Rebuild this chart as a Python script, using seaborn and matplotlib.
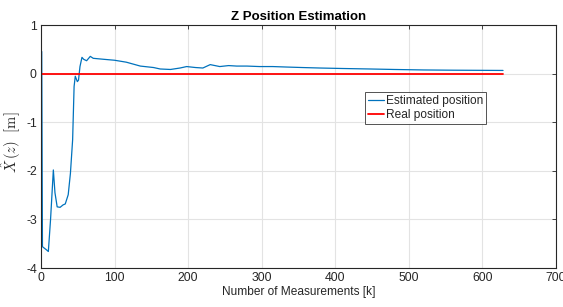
import matplotlib
matplotlib.use("Agg")
import matplotlib.pyplot as plt
import seaborn as sns
import pandas as pd

# Data
est_k = [1, 2, 3.6, 7, 10, 13, 16.8, 19, 22, 26, 30, 33, 37, 40, 43, 45, 46.6, 49.4, 51, 53, 55.7,
         58, 62, 67, 71, 85, 100, 116, 135, 153, 162, 176, 189, 198, 210, 220, 230, 243,
         255, 266, 280, 297, 315, 334, 355, 379, 410, 447, 480, 520, 560, 600, 628]
est_z = [0.46, -3.56, -3.58, -3.62, -3.66, -3.0, -1.98, -2.45, -2.74, -2.75, -2.70, -2.68, -2.49,
         -2.05, -1.36, -0.26, -0.05, -0.16, -0.13, 0.15, 0.34,
         0.30, 0.27, 0.36, 0.32, 0.30, 0.28, 0.24, 0.16, 0.13, 0.10, 0.09, 0.12, 0.15, 0.13,
         0.12, 0.19, 0.15, 0.17, 0.16, 0.16, 0.15, 0.15, 0.14, 0.13, 0.12, 0.11, 0.10, 0.09,
         0.08, 0.075, 0.072, 0.07]
real_k = [0, 628]
real_z = [0, 0]

x_ticks = [0, 100, 200, 300, 400, 500, 600, 700]
y_ticks = [-4, -3, -2, -1, 0, 1]

sns.set_theme(style="whitegrid")
plt.rcParams['font.family'] = ['Liberation Sans', 'DejaVu Sans']
plt.rcParams['mathtext.fontset'] = 'cm'
plt.rcParams['axes.unicode_minus'] = False

df = pd.concat([
    pd.DataFrame({"k": est_k, "z": est_z, "series": "Estimated position"}),
    pd.DataFrame({"k": real_k, "z": real_z, "series": "Real position"}),
])

fig = plt.figure(figsize=(5.63, 3.07), dpi=100)
ax = fig.add_axes([0.0728, 0.127, 0.9148, 0.7906])
sns.lineplot(data=df, x="k", y="z", hue="series",
             palette={"Estimated position": "#0072BD", "Real position": "#FF0000"},
             linewidth=0.9, ax=ax, sort=False, estimator=None)
for line in ax.get_lines():
    if line.get_color() in ("#FF0000", "#ff0000"):
        line.set_linewidth(1.3)

ax.set_xlim(0, 700)
ax.set_ylim(-4, 1)
ax.set_xticks(x_ticks)
ax.set_yticks(y_ticks)
ax.set_facecolor("white")
ax.grid(True, color="#e3e3e3", linewidth=0.8)
for s in ax.spines.values():
    s.set_color("#262626")
    s.set_linewidth(0.8)
    s.set_visible(True)
ax.tick_params(axis="both", direction="in", length=3, width=0.6, color="#262626",
               labelsize=8.8, labelcolor="#262626", top=True, right=True, pad=3)
ax.set_title("Z Position Estimation", fontsize=9.5, fontweight="bold", pad=4, color="black")
ax.set_xlabel("Number of Measurements [k]", fontsize=8.6, color="#262626", labelpad=1)
ax.set_ylabel(r"$\hat{X}\,(z)\ \ [\mathrm{m}]$", fontsize=10.5, color="#262626")
ax.yaxis.set_label_coords(-0.034, 0.52)

leg = ax.legend(loc="upper left", bbox_to_anchor=(0.63, 0.725), fontsize=8.6,
                frameon=True, fancybox=False, borderpad=0.25, handlelength=1.3,
                handletextpad=0.15, labelspacing=0.15, borderaxespad=0)
leg.get_frame().set_edgecolor("#262626")
leg.get_frame().set_linewidth(0.7)
leg.set_title(None)

fig.savefig("out.png", dpi=100)
